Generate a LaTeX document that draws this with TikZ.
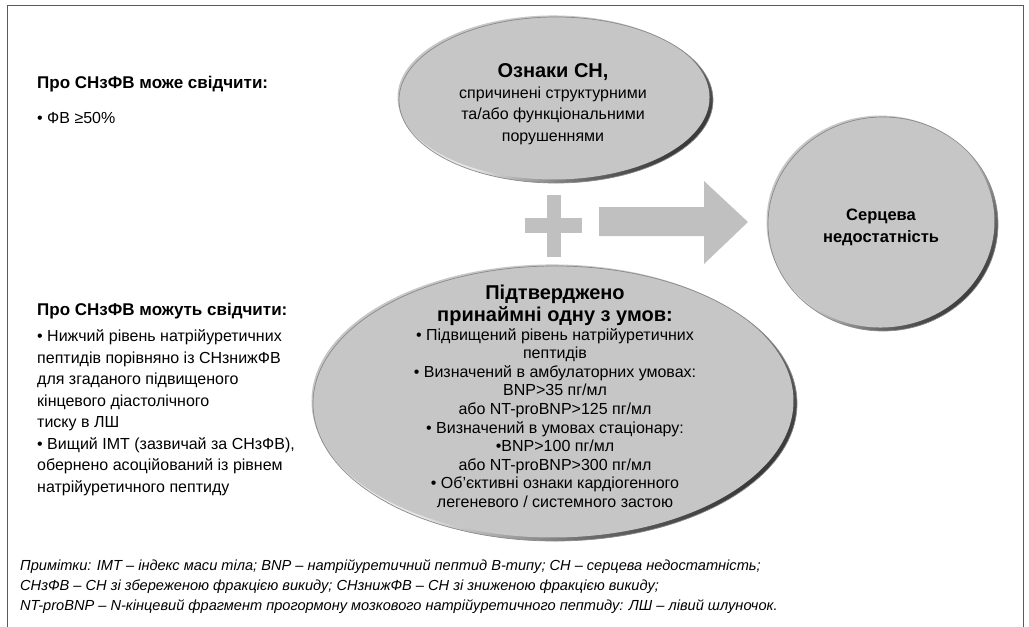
\documentclass[tikz,border=0pt]{standalone}
\usepackage{fontspec}
\setmainfont{Liberation Sans}
\usetikzlibrary{fadings}
\definecolor{blobfill}{HTML}{C6C6C6}
\definecolor{blobhi}{HTML}{E6E6E6}
\definecolor{blobmid}{HTML}{6A6A6A}
\definecolor{blobdark}{HTML}{1A1A1A}
\definecolor{blobline}{HTML}{8A8A8A}
\definecolor{signgray}{HTML}{C0C0C0}
\definecolor{framegray}{HTML}{5A5A5A}
\pgfdeclareverticalshading{rimshade}{100bp}{color(0bp)=(blobdark); color(18bp)=(blobdark); color(34bp)=(blobmid); color(52bp)=(blobhi); color(100bp)=(blobhi)}
\pgfdeclareradialshading{blobfadeshadeA}{\pgfpointorigin}{color(0bp)=(pgftransparent!0); color(39bp)=(pgftransparent!0); color(49.5bp)=(pgftransparent!100); color(50bp)=(pgftransparent!100)}
\pgfdeclarefading{blobfadeA}{\pgfuseshading{blobfadeshadeA}}
\pgfdeclareradialshading{blobfadeshadeB}{\pgfpointorigin}{color(0bp)=(pgftransparent!0); color(43bp)=(pgftransparent!0); color(49.5bp)=(pgftransparent!100); color(50bp)=(pgftransparent!100)}
\pgfdeclarefading{blobfadeB}{\pgfuseshading{blobfadeshadeB}}
\newcommand\myblob[5]{%
  \shade[shading=rimshade, shading angle=45] (#1,#2) ellipse [x radius=#3, y radius=#4];
  \fill[blobfill, path fading=#5] (#1-2.5,#2+2.5) ellipse [x radius=#3-1, y radius=#4-1];
  \draw[blobline, line width=0.7pt] (#1,#2) ellipse [x radius=#3, y radius=#4];
}
\begin{document}
\begin{tikzpicture}[x=1pt,y=1pt,
  head/.style={font=\fontsize{17}{20}\selectfont\bfseries, inner sep=0pt, anchor=base west},
  item/.style={font=\fontsize{16}{21.5}\selectfont, inner sep=0pt, anchor=base west},
  listtext/.style={font=\fontsize{16}{21.5}\selectfont, inner sep=0pt, align=left, anchor=north west},
  blobtitle/.style={font=\fontsize{20}{22}\selectfont\bfseries, inner sep=0pt, align=center, anchor=north},
  blobbody/.style={font=\fontsize{16}{21.5}\selectfont, inner sep=0pt, align=center, anchor=north},
  notetext/.style={font=\fontsize{14.6}{20}\selectfont\itshape, inner sep=0pt, align=left, anchor=north west},
  sign/.style={fill=signgray}]
\useasboundingbox (0,0) rectangle (1029,-627);
\fill[white] (0,0) rectangle (1029,-627);
\draw[framegray, line width=1pt] (7,-627) -- (7,-5) -- (1023,-5) -- (1023,-627);

% left column
\node[head] (h1) at (37,-88) {Про СНзФВ може свідчити:};
\node[item] (i1) at (37,-123) {• ФВ ≥50\%};
\node[head] (h2) at (37,-315) {Про СНзФВ можуть свідчити:};
\node[listtext] (l2) at (37,-329.5) {• Нижчий рівень натрійуретичних\\
пептидів порівняно із СНзнижФВ\\
для згаданого підвищеного\\
кінцевого діастолічного\\
тиску в ЛШ\\
• Вищий ІМТ (зазвичай за СНзФВ),\\
обернено асоційований із рівнем\\
натрійуретичного пептиду};

% blobs
\myblob{556}{-100}{157}{83}{blobfadeA}
\myblob{883}{-224}{115}{107}{blobfadeA}
\myblob{555}{-403.5}{242}{137.5}{blobfadeB}

% plus and arrow
\fill[sign] (547,-195) rectangle (561,-257);
\fill[sign] (525,-218) rectangle (582,-233);
\fill[sign] (599,-207) -- (704,-207) -- (704,-181) -- (748,-222) -- (704,-264) -- (704,-236) -- (599,-236) -- cycle;

% blob texts
\node[blobtitle, anchor=base] (tt) at (553,-77) {Ознаки СН,};
\node[blobbody] (tb) at (553,-86.5) {спричинені структурними\\
та/або функціональними\\
порушеннями};
\node[blobtitle, anchor=center, font=\fontsize{16.5}{22}\selectfont\bfseries] (hf) at (881,-227.6) {Серцева\\недостатність};
\node[blobtitle] (bt) at (555,-284.7) {Підтверджено\\принаймні одну з умов:};
\node[blobbody, font=\fontsize{16}{18.55}\selectfont] (bb) at (555,-328.2) {• Підвищений рівень натрійуретичних\\
пептидів\\
• Визначений в амбулаторних умовах:\\
BNP>35 пг/мл\\
або NT-proBNP>125 пг/мл\\
• Визначений в умовах стаціонару:\\
•BNP>100 пг/мл\\
або NT-proBNP>300 пг/мл\\
• Об’єктивні ознаки кардіогенного\\
легеневого / системного застою};

% notes
\node[notetext] (notes) at (20,-559.8) {Примітки: ІМТ – індекс маси тіла; BNP – натрійуретичний пептид B-типу; СН – серцева недостатність;\\
СНзФВ – СН зі збереженою фракцією викиду; СНзнижФВ – СН зі зниженою фракцією викиду;\\
NT-proBNP – N-кінцевий фрагмент прогормону мозкового натрійуретичного пептиду: ЛШ – лівий шлуночок.};
\end{tikzpicture}
\end{document}
